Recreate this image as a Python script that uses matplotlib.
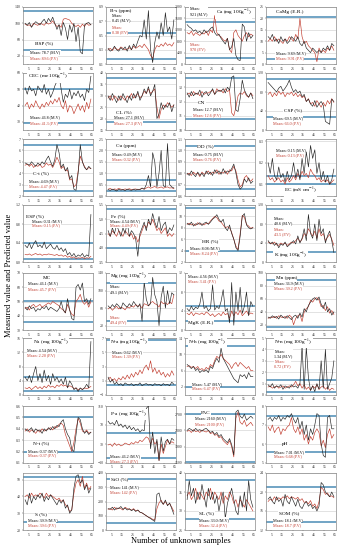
import numpy as np
import matplotlib.pyplot as plt

plt.rcParams['font.family'] = ['Liberation Serif', 'DejaVu Serif']
plt.rcParams['mathtext.fontset'] = 'stix'

samples = np.arange(2, 66, 2)   # unknown sample number

# measured (M.V) and predicted (P.V) values
bsp_mv = [100, 95, 102, 90, 98, 104, 100, 96, 104, 110, 100, 112, 104, 115, 100, 85,
          97, 70, 102, 88, 60, 96, 78, 100, 55, 90, 30, 25, 96, 100, 102, 96]
bsp_pv = [98, 95, 96, 92, 100, 97, 95, 100, 98, 95, 102, 98, 100, 106, 98, 92,
          95, 90, 110, 112, 110, 108, 100, 95, 92, 96, 90, 98, 92, 100, 95, 97]
bs_mv = [0.32, 0.28, 0.30, 0.35, 0.30, 0.28, 0.33, 0.30, 0.34, 0.28, 0.36, 0.30, 0.38, 0.33, 0.42, 0.50,
         0.48, 0.72, 0.45, 0.85, 0.30, 0.12, 0.40, 0.55, 0.45, 0.68, 0.50, 0.82, 0.55, 0.62, 0.45, 0.72]
bs_pv = [0.30, 0.32, 0.29, 0.33, 0.31, 0.30, 0.34, 0.32, 0.30, 0.31, 0.33, 0.30, 0.35, 0.32, 0.34, 0.36,
         0.33, 0.38, 0.34, 0.30, 0.22, 0.18, 0.30, 0.36, 0.34, 0.38, 0.35, 0.40, 0.36, 0.38, 0.35, 0.40]
ca_mv = [1380, 1300, 1250, 1150, 1200, 1100, 1150, 1050, 1200, 1100, 1150, 1250, 1300, 1100, 1000, 1050,
         900, 800, 700, 900, 500, 600, 900, 300, 150, 120, 1400, 1300, 800, 1100, 900, 1000]
ca_pv = [1100, 1050, 1150, 1000, 1100, 1050, 1000, 1100, 1050, 1150, 1000, 1200, 1100, 1700, 1100, 1000,
         950, 850, 800, 900, 500, 400, 1100, 1200, 1000, 900, 800, 1000, 1100, 950, 1050, 1000]
camg_mv = [12, 11, 13, 10, 11, 9, 12, 10, 11, 9, 10, 12, 11, 10, 12, 9,
           8, 10, 7, 6, 5, 7, 6, 5, 6, 5, 7, 6, 8, 6, 9, 8]
camg_pv = [10, 11, 10, 12, 10, 11, 10, 9, 11, 10, 12, 11, 10, 13, 11, 20,
           12, 9, 10, 8, 7, 6, 5, 1, 7, 5, 6, 5, 7, 6, 8, 6]
cec_mv = [51, 47, 52, 49, 50, 46, 52, 50, 48, 53, 47, 50, 45, 48, 52, 55,
          58, 50, 42, 47, 45, 50, 44, 48, 46, 49, 45, 47, 43, 50, 48, 58]
cec_pv = [40, 42, 38, 41, 39, 43, 40, 38, 41, 39, 42, 40, 43, 41, 44, 42,
          45, 40, 38, 43, 36, 40, 39, 35, 38, 41, 37, 40, 36, 42, 38, 44]
cl_mv = [30, 28, 31, 29, 27, 30, 28, 31, 29, 27, 30, 28, 31, 29, 32, 28,
         30, 33, 31, 34, 30, 32, 35, 20, 22, 27, 24, 26, 25, 27, 23, 26]
cl_pv = [29, 30, 28, 30, 29, 28, 30, 29, 28, 30, 29, 31, 29, 30, 31, 29,
         30, 32, 31, 33, 31, 32, 33, 25, 20, 24, 26, 25, 27, 26, 25, 26]
cn_mv = [12.6, 12.3, 12.7, 12.4, 12.6, 12.5, 12.8, 12.3, 12.6, 12.7, 12.4, 12.6, 12.9, 12.5, 12.7, 12.8,
         12.7, 12.9, 12.6, 13.0, 12.8, 13.7, 13.8, 11.4, 11.3, 12.2, 13.5, 12.8, 12.5, 12.3, 12.6, 12.2]
cn_pv = [12.5, 12.6, 12.4, 12.7, 12.5, 12.6, 12.4, 12.7, 12.5, 12.6, 12.6, 12.7, 12.8, 12.5, 12.9, 12.7,
         12.8, 12.6, 12.9, 12.7, 12.8, 11.2, 11.0, 11.6, 12.4, 12.6, 12.5, 12.7, 12.4, 12.3, 12.6, 12.4]
csp_mv = [100, 95, 90, 85, 80, 88, 92, 82, 88, 95, 105, 90, 80, 85, 78, 82,
          70, 75, 60, 65, 55, 50, 62, 48, 55, 60, 52, 18, 15, 12, 65, 60]
csp_pv = [75, 80, 70, 78, 72, 82, 75, 80, 70, 78, 75, 80, 72, 78, 70, 75,
          68, 72, 60, 66, 55, 58, 50, 62, 55, 48, 58, 50, 62, 55, 66, 58]
ct_mv = [4.9, 4.8, 4.7, 5.0, 4.8, 4.6, 4.9, 4.7, 5.0, 4.8, 5.2, 5.5, 5.0, 4.6, 5.2, 6.5,
         5.8, 4.5, 4.8, 4.2, 4.5, 3.5, 3.8, 2.6, 2.5, 4.0, 6.5, 5.0, 4.5, 4.3, 4.6, 4.4]
ct_pv = [4.7, 4.8, 4.6, 4.8, 4.5, 4.7, 4.6, 4.8, 4.5, 4.6, 4.9, 4.7, 4.8, 4.5, 4.9, 5.4,
         5.0, 4.4, 4.6, 4.2, 4.3, 3.4, 3.5, 2.8, 3.0, 4.2, 5.5, 5.0, 4.6, 4.3, 4.5, 4.4]
cu_mv = [0.28, 0.25, 0.30, 0.27, 0.22, 0.30, 0.26, 0.28, 0.24, 0.30, 0.27, 0.25, 0.29, 0.26, 0.30, 0.28,
         0.35, 0.30, 0.50, 0.90, 0.40, 1.90, 1.50, 0.40, 1.00, 2.00, 0.45, 0.40, 2.30, 0.50, 0.40, 0.35]
cu_pv = [0.30, 0.33, 0.28, 0.31, 0.29, 0.33, 0.30, 0.28, 0.31, 0.29, 0.32, 0.28, 0.30, 0.31, 0.28, 0.30,
         0.33, 0.30, 0.35, 0.40, 0.34, 0.38, 0.42, 0.35, 0.36, 0.40, 0.34, 0.38, 0.40, 0.35, 0.36, 0.32]
dd_mv = [0.80, 0.78, 0.82, 0.79, 0.77, 0.81, 0.78, 0.80, 0.77, 0.82, 0.79, 0.81, 0.78, 0.83, 0.80, 0.82,
         0.79, 0.84, 0.80, 0.82, 0.81, 0.84, 0.88, 0.80, 0.70, 0.66, 0.68, 0.75, 0.72, 0.76, 0.71, 0.73]
dd_pv = [0.79, 0.80, 0.78, 0.81, 0.79, 0.80, 0.77, 0.81, 0.79, 0.80, 0.82, 0.79, 0.81, 0.80, 0.83, 0.79,
         0.81, 0.80, 0.82, 0.79, 0.83, 0.82, 0.86, 0.82, 0.74, 0.68, 0.70, 0.76, 0.78, 0.74, 0.73, 0.75]
ec_mv = [0.20, 0.15, 0.22, 0.14, 0.12, 0.18, 0.13, 0.15, 0.11, 0.16, 0.12, 0.14, 0.20, 0.13, 0.17, 0.12,
         0.22, 0.15, 0.25, 0.18, 0.28, 0.22, 0.26, 0.15, 0.20, 0.12, 0.16, 0.11, 0.14, 0.10, 0.12, 0.17]
ec_pv = [0.14, 0.12, 0.13, 0.11, 0.12, 0.13, 0.11, 0.12, 0.10, 0.13, 0.11, 0.12, 0.14, 0.12, 0.15, 0.13,
         0.16, 0.14, 0.15, 0.13, 0.17, 0.15, 0.14, 0.12, 0.13, 0.11, 0.12, 0.11, 0.12, 0.10, 0.11, 0.12]
esp_mv = [0.35, 0.30, 0.40, 0.28, 0.38, 0.45, 0.32, 0.36, 0.30, 0.42, 0.28, 0.33, 0.38, 0.30, 0.27, 0.35,
          0.25, 0.30, 0.22, 0.28, 0.15, 0.20, 0.12, 0.18, 0.10, 0.15, 0.12, 0.18, 0.10, 0.15, 0.12, 1.00]
esp_pv = [0.16, 0.15, 0.17, 0.14, 0.16, 0.18, 0.15, 0.17, 0.14, 0.16, 0.15, 0.17, 0.16, 0.15, 0.14, 0.16,
          0.13, 0.15, 0.12, 0.14, 0.10, 0.12, 0.08, 0.11, 0.07, 0.09, 0.08, 0.10, 0.07, 0.09, 0.08, 0.12]
fe_mv = [4.6, 4.4, 4.7, 4.5, 4.8, 4.6, 4.4, 4.7, 4.5, 4.9, 4.4, 4.6, 4.5, 4.3, 3.7, 4.5,
         4.7, 4.9, 4.6, 5.0, 4.8, 5.2, 4.9, 4.7, 5.1, 4.6, 4.8, 4.9, 4.5, 4.7, 4.6, 4.8]
fe_pv = [4.5, 4.4, 4.6, 4.5, 4.4, 4.6, 4.5, 4.4, 4.6, 4.5, 4.4, 4.5, 4.3, 4.4, 4.2, 4.4,
         4.6, 4.8, 4.7, 4.9, 4.8, 5.0, 4.8, 4.6, 4.7, 4.5, 4.6, 4.7, 4.4, 4.5, 4.4, 4.5]
hr_mv = [8.8, 8.5, 9.0, 8.3, 8.7, 8.6, 8.9, 8.4, 8.8, 9.0, 8.6, 9.0, 9.5, 9.8, 10.3, 9.5,
         9.0, 9.5, 8.0, 7.5, 8.5, 7.0, 6.0, 4.5, 4.0, 6.5, 10.0, 10.5, 8.5, 8.0, 7.8, 8.0]
hr_pv = [8.6, 8.8, 8.5, 8.7, 8.4, 8.9, 8.6, 8.7, 8.5, 8.8, 8.7, 9.2, 9.6, 10.0, 9.8, 9.2,
         9.0, 8.5, 8.0, 8.2, 8.0, 7.2, 6.0, 4.8, 4.2, 7.0, 10.2, 9.8, 8.6, 8.3, 7.9, 8.1]
k_mv = [45, 38, 42, 35, 40, 30, 38, 35, 42, 32, 36, 40, 45, 38, 55, 40,
        50, 70, 45, 100, 60, 50, 80, 45, 90, 60, 70, 40, 55, 65, 45, 20]
k_pv = [42, 40, 38, 42, 36, 35, 40, 37, 40, 35, 38, 42, 40, 45, 50, 42,
        48, 60, 55, 70, 62, 55, 65, 50, 70, 55, 60, 45, 52, 58, 48, 35]
mc_mv = [46, 44, 47, 45, 46, 43, 45, 44, 46, 45, 47, 44, 46, 45, 44, 43,
         45, 50, 44, 42, 52, 44, 38, 37, 60, 62, 58, 63, 50, 52, 48, 52]
mc_pv = [45, 46, 44, 47, 48, 46, 47, 48, 46, 47, 48, 49, 48, 50, 49, 48,
         47, 45, 44, 42, 48, 44, 41, 40, 50, 52, 55, 50, 48, 50, 46, 50]
mg_mv = [65, 60, 68, 62, 70, 65, 58, 72, 66, 62, 70, 64, 75, 68, 62, 70,
         30, 120, 80, 65, 70, 130, 90, 75, 20, 85, 110, 60, 100, 70, 95, 90]
mg_pv = [58, 62, 55, 60, 64, 58, 62, 60, 56, 63, 60, 65, 62, 68, 64, 66,
         60, 70, 68, 65, 72, 75, 70, 68, 62, 75, 70, 72, 68, 74, 70, 90]
mgk_mv = [4.5, 4.0, 5.0, 4.2, 4.8, 4.5, 5.5, 8.0, 4.5, 5.0, 4.0, 4.5, 9.5, 4.2, 5.0, 4.5,
          6.0, 8.5, 4.0, 4.5, 1.5, 10.0, 1.0, 8.0, 4.0, 9.0, 3.5, 5.0, 8.0, 3.0, 6.0, 5.0]
mgk_pv = [3.5, 3.2, 3.8, 3.0, 3.6, 3.4, 3.3, 3.6, 3.2, 3.8, 3.5, 3.0, 3.4, 2.8, 3.2, 3.5,
          3.0, 3.8, 3.2, 3.5, 2.5, 4.0, 3.0, 3.8, 3.2, 4.2, 3.0, 3.5, 4.0, 3.2, 3.6, 3.4]
mn_mv = [32, 30, 34, 31, 33, 29, 35, 32, 30, 34, 31, 28, 33, 35, 30, 38,
         32, 45, 40, 50, 55, 60, 62, 58, 63, 52, 45, 55, 40, 45, 35, 40]
mn_pv = [30, 32, 31, 33, 30, 34, 32, 31, 33, 30, 35, 32, 20, 30, 34, 36,
         25, 40, 45, 48, 58, 55, 60, 62, 58, 48, 50, 42, 48, 38, 42, 36]
na_mv = [5, 4, 5.5, 3.5, 6, 8, 4, 6, 3.5, 7, 4, 5.5, 3, 6, 4, 5,
         3.5, 4.5, 3, 5, 2, 4, 3, 1.5, 2, 1, 2, 1.5, 2, 3, 2, 15]
na_pv = [2, 1.8, 2.2, 1.5, 2, 2.5, 1.8, 2.3, 1.7, 2.5, 2, 2.8, 2.2, 2.5, 2, 2.8,
         2.4, 3, 2.5, 2.8, 2.2, 2.6, 2.3, 1.8, 2, 1.5, 1.8, 1.6, 2, 1.8, 2, 2.4]
na_a_mv = [1.5, 0.8, 1.2, 0.5, 0.8, 0.4, 0.6, 0.3, 0.7, 0.5, 0.4, 0.6, 0.3, 0.5, 0.4, 0.7,
           0.3, 0.5, 0.6, 0.4, 0.5, 0.3, 0.6, 0.4, 0.5, 0.3, 0.6, 0.4, 0.5, 0.3, 0.8, 0.5]
na_a_pv = [1.2, 1.5, 1.0, 1.3, 0.9, 1.4, 1.1, 1.6, 1.2, 1.8, 1.3, 2.0, 1.5, 2.2, 1.8, 2.5,
           2.0, 2.8, 3.2, 2.5, 3.8, 2.2, 2.8, 2.0, 2.5, 1.8, 2.2, 1.5, 2.0, 1.6, 2.4, 1.8]
nh_mv = [7.5, 7, 6.5, 7, 6, 6.5, 5.5, 6, 5.8, 6.2, 5.5, 7, 6.5, 8, 9, 8,
         11.5, 9, 8, 7, 6, 5, 4, 3.5, 3, 5, 4.5, 5, 4, 5.5, 4.5, 4.5]
nh_pv = [7, 7.2, 6.8, 7, 6.5, 7, 6.2, 6.5, 6, 6.8, 6.3, 7.5, 7, 8.5, 9.5, 9,
         10, 9, 8.5, 8, 7.5, 6.5, 7.5, 8, 7, 8, 7.5, 7, 6.5, 7, 6, 6]
nn_mv = [0.9, 0.7, 1.0, 0.6, 0.8, 0.7, 0.9, 0.5, 0.8, 0.7, 0.6, 0.9, 0.7, 0.8, 0.6, 1.0,
         4.3, 0.5, 4.2, 1.5, 0.4, 0.8, 0.3, 1.0, 0.5, 3.0, 0.6, 4.0, 0.5, 1.0, 1.5, 3.0]
nn_pv = [0.7, 0.8, 0.6, 0.7, 0.8, 0.6, 0.7, 0.8, 0.6, 0.7, 0.8, 0.7, 0.9, 1.2, 0.8, 1.0,
         0.6, 0.9, 0.5, 0.7, 0.4, 0.8, 0.6, 0.9, 0.5, 0.7, 0.8, 0.5, 0.7, 0.4, 0.6, 0.5]
nt_mv = [0.40, 0.38, 0.39, 0.41, 0.37, 0.40, 0.38, 0.39, 0.36, 0.40, 0.38, 0.41, 0.39, 0.42, 0.40, 0.43,
         0.42, 0.46, 0.48, 0.40, 0.35, 0.32, 0.22, 0.20, 0.35, 0.50, 0.48, 0.40, 0.36, 0.38, 0.35, 0.37]
nt_pv = [0.38, 0.40, 0.37, 0.39, 0.38, 0.36, 0.39, 0.37, 0.40, 0.38, 0.39, 0.40, 0.41, 0.39, 0.42, 0.41,
         0.44, 0.45, 0.43, 0.35, 0.30, 0.25, 0.20, 0.28, 0.40, 0.49, 0.45, 0.38, 0.37, 0.39, 0.36, 0.37]
pa_mv = [78, 72, 75, 70, 80, 68, 72, 65, 70, 62, 68, 60, 65, 58, 62, 55,
         60, 58, 105, 110, 20, 55, 10, 40, -5, 45, 15, 35, 40, 30, 42, 38]
pa_pv = [28, 30, 25, 32, 27, 30, 26, 28, 32, 30, 28, 33, 30, 35, 32, 38,
         35, 40, 45, 42, 30, 42, 30, 35, -5, 30, 10, 25, 38, 30, 35, 32]
pac_mv = [2300, 2350, 2320, 2280, 2350, 2300, 2320, 2280, 2330, 2350, 2300, 2250, 2280, 2200, 2250, 2150,
          2200, 2100, 2050, 2000, 2100, 1950, 1700, 2750, 2800, 2650, 2600, 2700, 2550, 2600, 2650, 2600]
pac_pv = [2280, 2300, 2250, 2320, 2270, 2290, 2250, 2310, 2280, 2260, 2300, 2220, 2250, 2180, 2200, 2120,
          2150, 2050, 2000, 1950, 2050, 1900, 1650, 2600, 2750, 2500, 2450, 2550, 2400, 2450, 2500, 2420]
ph_mv = [7.3, 7.4, 7.2, 7.4, 7.3, 7.5, 7.2, 7.4, 7.3, 7.5, 7.4, 7.6, 7.3, 7.1, 7.4, 6.8,
         7.2, 6.5, 7.0, 6.2, 6.8, 6.5, 7.0, 7.6, 7.5, 6.0, 5.4, 5.3, 7.4, 7.5, 6.8, 6.8]
ph_pv = [6.9, 6.7, 7.0, 6.6, 6.8, 6.9, 6.5, 6.8, 6.7, 6.9, 7.0, 7.4, 6.8, 6.6, 6.9, 6.5,
         6.8, 6.2, 6.5, 6.0, 6.4, 6.2, 6.6, 6.8, 6.6, 5.9, 6.2, 5.8, 6.5, 6.8, 6.3, 6.5]
s_mv = [38, 35, 42, 36, 40, 38, 41, 39, 42, 37, 40, 38, 41, 39, 37, 35,
        38, 36, 38, 33, 35, 30, 32, 45, 52, 53, 48, 50, 44, 47, 42, 45]
s_pv = [40, 41, 39, 42, 40, 41, 40, 42, 41, 39, 42, 40, 41, 40, 39, 38,
        39, 37, 38, 35, 34, 31, 32, 42, 48, 50, 46, 52, 45, 48, 44, 46]
sio_mv = [150, 145, 160, 140, 155, 150, 165, 145, 155, 140, 150, 135, 145, 130, 140, 125,
          120, 110, 100, 90, 80, 70, 60, 250, 260, 200, 180, 210, 170, 190, 150, 110]
sio_pv = [145, 150, 140, 160, 145, 155, 150, 140, 160, 150, 145, 140, 150, 135, 140, 125,
          120, 110, 100, 90, 85, 75, 70, 150, 190, 210, 180, 200, 175, 185, 160, 130]
sl_mv = [33, 38, 34, 36, 32, 35, 33, 37, 34, 31, 36, 33, 35, 32, 34, 30,
         33, 35, 28, 32, 34, 36, 33, 30, 29, 34, 31, 35, 30, 38, 33, 31]
sl_pv = [34, 35, 33, 34, 36, 33, 35, 34, 33, 35, 34, 36, 33, 35, 34, 33,
         35, 32, 34, 33, 35, 34, 32, 33, 31, 33, 32, 31, 33, 32, 31, 30]
som_mv = [18.5, 19, 18, 17.5, 19, 18, 18.5, 17, 19.5, 18, 17.5, 19, 18, 17, 18.5, 17,
          16.5, 17.5, 18, 17, 17.5, 16.5, 17, 16, 17, 22, 21.5, 20, 19.5, 19, 20, 19]
som_pv = [18, 18.5, 18.2, 19, 18.3, 18.8, 18.5, 19, 18.7, 19.2, 18.6, 19, 18.8, 18.5, 18.9, 18.2,
          18.6, 17.8, 18, 17.5, 18.2, 17, 17.5, 16.5, 18, 21, 20.5, 19.5, 19.8, 19, 19.2, 18.8]

names = ["BSP (%)", "B-s (ppm)", "Ca (mg 100g$^{-1}$)", "CaMg (E.R.)",
         "CEC (me 100g$^{-1}$)", "CL (%)", "CN", "CSP (%)",
         "C-t (%)", "Cu (ppm)", "DD (%)", "EC (mS cm$^{-1}$)",
         "ESP (%)", "Fe (%)", "HR (%)", "K (mg 100g$^{-1}$)",
         "MC", "Mg (mg 100g$^{-1}$)", "MgK (E.R.)", "Mn (ppm)",
         "Na (mg 100g$^{-1}$)", "N-a (mg 100g$^{-1}$)", "N-h (mg 100g$^{-1}$)", "N-n (mg 100g$^{-1}$)",
         "N-t (%)", "P-a (mg 100g$^{-1}$)", "PAC", "pH",
         "S (%)", "SiO (%)", "SL (%)", "SOM (%)"]
mean_mv = ["78.7", "0.45", "921", "9.89", "46.8", "27.1", "12.7", "69.5",
           "4.69", "0.49", "0.75", "0.15", "0.31", "4.54", "8.08", "40.6",
           "46.1", "49.1", "4.56", "36.9", "4.54", "0.62", "5.47", "1.34",
           "0.37", "46.2", "2160", "7.01", "39.9", "141", "33.0", "18.1"]
mean_pv = ["89.6", "0.38", "970", "9.91", "41.3", "27.3", "12.6", "66.0",
           "4.47", "0.32", "0.76", "0.13", "0.15", "4.49", "8.24", "43.5",
           "45.7", "49.4", "3.41", "39.2", "2.20", "1.39", "6.47", "0.72",
           "0.37", "27.3", "2100", "6.68", "39.6", "142", "32.4", "18.7"]
upper_ref = [130, 0.535, 1480, 20.5, 50, 37.8, 13.65, 108,
             6.5, 0.7, 1.04, 0.14, 0.4, 5.37, 11.4, 112,
             50.3, 118, 5.0, 89, 5.0, 6.7, 12, 1.35,
             0.5, 54, 2700, 7.45, 51.8, 355, 38.1, 21]
lower_ref = [35, 0.17, 220, 2, 29.5, 18.5, 10.75, 28,
             2.4, 0.23, 0.66, 0.10, 0.07, 4.0, 4.0, 21,
             35.4, 31, 1.8, 16, 1.0, 0.4, 2, 0.25,
             0.2, 0, 1530, 5.6, 24.5, 50, 27.8, 13.7]

measured = [bsp_mv, bs_mv, ca_mv, camg_mv, cec_mv, cl_mv, cn_mv, csp_mv,
            ct_mv, cu_mv, dd_mv, ec_mv, esp_mv, fe_mv, hr_mv, k_mv,
            mc_mv, mg_mv, mgk_mv, mn_mv, na_mv, na_a_mv, nh_mv, nn_mv,
            nt_mv, pa_mv, pac_mv, ph_mv, s_mv, sio_mv, sl_mv, som_mv]
predicted = [bsp_pv, bs_pv, ca_pv, camg_pv, cec_pv, cl_pv, cn_pv, csp_pv,
             ct_pv, cu_pv, dd_pv, ec_pv, esp_pv, fe_pv, hr_pv, k_pv,
             mc_pv, mg_pv, mgk_pv, mn_pv, na_pv, na_a_pv, nh_pv, nn_pv,
             nt_pv, pa_pv, pac_pv, ph_pv, s_pv, sio_pv, sl_pv, som_pv]

# axis ranges: (ymin, ymax, ticks)
yaxes = [(0, 140, [20, 60, 100, 140]), (0.1, 0.9, [0.1, 0.3, 0.5, 0.7, 0.9]),
         (0, 2000, [0, 400, 800, 1200, 1600, 2000]), (0, 25, [0, 5, 10, 15, 20, 25]),
         (25, 60, [30, 40, 50, 60]), (15, 40, [15, 20, 25, 30, 35, 40]),
         (10, 14, [10, 11, 12, 13, 14]), (0, 120, [0, 40, 80, 120]),
         (2, 7, [2, 3, 4, 5, 6, 7]), (0, 2.5, [0, 0.5, 1.0, 1.5, 2.0, 2.5]),
         (0.6, 1.1, [0.6, 0.7, 0.8, 0.9, 1.0, 1.1]), (0.045, 0.31, [0.1, 0.2, 0.3]),
         (0, 1.2, [0, 0.4, 0.8, 1.2]), (3.5, 5.5, [3.5, 4.0, 4.5, 5.0, 5.5]),
         (2, 12, [2, 4, 6, 8, 10, 12]), (0, 120, [0, 40, 80, 120]),
         (30, 70, [30, 40, 50, 60, 70]), (10, 140, [20, 60, 100, 140]),
         (0, 12, [0, 4, 8, 12]), (12, 100, [20, 40, 60, 80, 100]),
         (0, 16, [0, 4, 8, 12, 16]), (-1, 7, [-1, 1, 3, 5, 7]),
         (0, 14, [2, 6, 10, 14]), (0, 5, [0, 1, 2, 3, 4, 5]),
         (0.1, 0.6, [0.1, 0.2, 0.3, 0.4, 0.5, 0.6]), (-10, 110, [-10, 30, 70, 110]),
         (1500, 2900, [1500, 1900, 2300, 2700]), (5, 8, [5, 6, 7, 8]),
         (20, 54, [20, 30, 40, 50]), (0, 400, [0, 100, 200, 300, 400]),
         (25, 40, [25, 30, 35, 40]), (12, 24, [12, 16, 20, 24])]

# text layout: (title x, y, ha), (M.V x, y), (P.V x, y), two-line means
text_pos = [((0.30, 0.36, 'center'), (0.10, 0.21), (0.10, 0.10), False),
            ((0.06, 0.93, 'left'), (0.08, 0.80), (0.08, 0.60), True),
            ((0.44, 0.89, 'left'), (0.07, 0.92), (0.07, 0.30), True),
            ((0.14, 0.91, 'left'), (0.14, 0.20), (0.14, 0.11), False),
            ((0.07, 0.93, 'left'), (0.10, 0.23), (0.10, 0.12), False),
            ((0.25, 0.32, 'center'), (0.12, 0.23), (0.12, 0.12), False),
            ((0.24, 0.47, 'center'), (0.11, 0.37), (0.11, 0.26), False),
            ((0.38, 0.35, 'center'), (0.10, 0.21), (0.10, 0.12), False),
            ((0.26, 0.40, 'center'), (0.08, 0.26), (0.08, 0.17), False),
            ((0.29, 0.88, 'center'), (0.08, 0.74), (0.08, 0.65), False),
            ((0.29, 0.88, 'center'), (0.11, 0.74), (0.11, 0.65), False),
            ((0.49, 0.08, 'center'), (0.14, 0.81), (0.14, 0.72), False),
            ((0.17, 0.81, 'center'), (0.13, 0.72), (0.13, 0.64), False),
            ((0.17, 0.81, 'center'), (0.06, 0.72), (0.06, 0.64), False),
            ((0.36, 0.36, 'center'), (0.07, 0.24), (0.07, 0.16), False),
            ((0.11, 0.10, 'left'), (0.11, 0.72), (0.11, 0.52), True),
            ((0.34, 0.91, 'center'), (0.07, 0.82), (0.07, 0.72), False),
            ((0.06, 0.93, 'left'), (0.06, 0.71), (0.06, 0.17), True),
            ((0.05, 0.13, 'left'), (0.05, 0.95), (0.05, 0.86), False),
            ((0.29, 0.91, 'center'), (0.12, 0.82), (0.12, 0.73), False),
            ((0.14, 0.92, 'left'), (0.06, 0.78), (0.06, 0.70), False),
            ((0.06, 0.92, 'left'), (0.09, 0.76), (0.09, 0.68), False),
            ((0.05, 0.92, 'left'), (0.10, 0.20), (0.10, 0.12), False),
            ((0.12, 0.92, 'left'), (0.12, 0.72), (0.12, 0.54), True),
            ((0.26, 0.35, 'center'), (0.07, 0.21), (0.07, 0.13), False),
            ((0.06, 0.85, 'left'), (0.06, 0.12), (0.06, 0.04), False),
            ((0.30, 0.88, 'center'), (0.14, 0.79), (0.14, 0.69), False),
            ((0.28, 0.33, 'center'), (0.12, 0.20), (0.12, 0.12), False),
            ((0.26, 0.28, 'center'), (0.07, 0.18), (0.07, 0.09), False),
            ((0.19, 0.89, 'center'), (0.06, 0.75), (0.06, 0.66), False),
            ((0.31, 0.30, 'center'), (0.20, 0.18), (0.20, 0.09), False),
            ((0.33, 0.30, 'center'), (0.10, 0.18), (0.10, 0.09), False)]

RED = '#c0392b'
BLUE = '#4a8cb5'
W, H = 350, 550
col_left = [23, 106, 185, 266]
row_top = [7, 73, 139, 205, 273, 338, 406, 473]
aw, ah = 70, 57

fig = plt.figure(figsize=(3.5, 5.5), dpi=100)
box = dict(facecolor='white', edgecolor='none', pad=0.3)

for i in range(32):
    r, c = divmod(i, 4)
    ax = fig.add_axes([col_left[c] / W, 1 - (row_top[r] + ah) / H, aw / W, ah / H])
    ymin, ymax, ticks = yaxes[i]
    ax.set_xlim(0, 66)
    ax.set_ylim(ymin, ymax)
    ax.set_xticks([5, 15, 25, 35, 45, 55, 65])
    ax.set_yticks(ticks)
    ax.tick_params(labelsize=2.8, length=1, width=0.3, pad=0.8, colors='#333333')
    ax.yaxis.grid(True, color='#cccccc', lw=0.4)
    ax.set_axisbelow(True)
    for sp in ax.spines.values():
        sp.set_color('#888888')
        sp.set_linewidth(0.5)

    ax.axhline(upper_ref[i], color=BLUE, lw=1.1, zorder=1.5)
    ax.axhline(lower_ref[i], color=BLUE, lw=1.1, zorder=1.5)
    ax.plot(samples, predicted[i], color=RED, lw=0.45, zorder=3)
    ax.plot(samples, measured[i], color='#222222', lw=0.45, zorder=3)

    (tx, ty, tha), (mx, my), (px, py), split = text_pos[i]
    sep = '\n' if split else ' '
    ax.text(tx, ty, names[i], transform=ax.transAxes, ha=tha, va='center',
            fontsize=3.8, bbox=box, zorder=5)
    ax.text(mx, my, f"Mean:{sep}{mean_mv[i]} (M.V)", transform=ax.transAxes,
            ha='left', va='center', fontsize=3.0, linespacing=1.1, bbox=box, zorder=5)
    ax.text(px, py, f"Mean:{sep}{mean_pv[i]} (P.V)", transform=ax.transAxes,
            ha='left', va='center', fontsize=3.0, linespacing=1.1, color=RED,
            bbox=box, zorder=5)

fig.text(181 / W, 1 - 541 / H, "Number of unknown samples", ha='center', va='center',
         fontsize=6)
fig.text(9 / W, 0.5, "Measured value and Predicted value", ha='center', va='center',
         rotation=90, fontsize=6)

fig.savefig("out.png", dpi=100)
